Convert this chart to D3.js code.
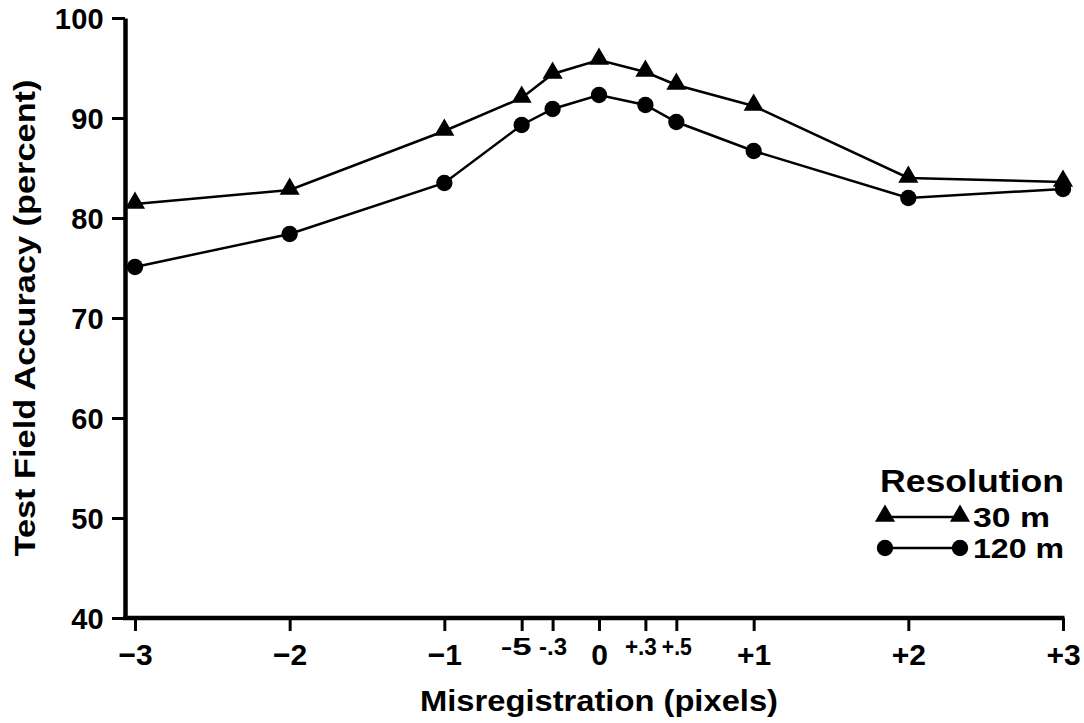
<!DOCTYPE html>
<html>
<head>
<meta charset="utf-8">
<script src="https://cdn.jsdelivr.net/npm/d3@7/dist/d3.min.js"></script>
<style>
  html, body { margin: 0; padding: 0; background: #fff; }
  svg { display: block; }
  text { font-family: "Liberation Sans", Arial, Helvetica, sans-serif; fill: #000; }
</style>
</head>
<body>
<svg id="chart" width="1084" height="723"></svg>
<script>
// ---- data ----
const xValues = [-3, -2, -1, -0.5, -0.3, 0, 0.3, 0.5, 1, 2, 3];
const acc30m  = [81.4, 82.8, 88.7, 92.0, 94.4, 95.8, 94.6, 93.3, 91.2, 84.0, 83.6];
const acc120m = [75.1, 78.4, 83.5, 89.3, 90.9, 92.3, 91.3, 89.6, 86.7, 82.0, 82.9];
const xTickValues = [-3, -2, -1, -0.5, -0.3, 0, 0.3, 0.5, 1, 2, 3];
const xTickLabels = ["\u22123", "\u22122", "\u22121", "-5", "-.3", "0", "+.3", "+.5", "+1", "+2", "+3"];
const smallTicks = [-0.5, -0.3, 0.3, 0.5];
const yTickValues = [40, 50, 60, 70, 80, 90, 100];
const seriesNames = ["30 m", "120 m"];

const svg = d3.select("#chart");
const x = d3.scaleLinear().domain([-3, 3]).range([135, 1063]);
const y = d3.scaleLinear().domain([40, 100]).range([618, 18]);

// y axis
const yAxis = d3.axisLeft(y).tickValues(yTickValues).tickSize(13).tickSizeOuter(0).tickPadding(8);
const gy = svg.append("g").attr("transform", "translate(125,0)").call(yAxis);
gy.select(".domain").attr("stroke", "#000").attr("stroke-width", 4.5);
gy.selectAll(".tick line").attr("stroke", "#000").attr("stroke-width", 3);
gy.selectAll(".tick text")
  .attr("font-size", 29).attr("font-weight", "bold").attr("dy", "0.36em")
  .style("letter-spacing", "0.3px").attr("fill", "#000");

// x axis
const smallWidths = { "-0.5": 31, "-0.3": 28, "0.3": 32, "0.5": 30 };
const xAxis = d3.axisBottom(x).tickValues(xTickValues).tickSize(13).tickSizeOuter(0)
  .tickFormat((d, i) => xTickLabels[i]);
const gx = svg.append("g").attr("transform", `translate(0,${y(40)})`).call(xAxis);
gx.select(".domain").remove();
gx.selectAll(".tick line").attr("stroke", "#000").attr("stroke-width", 3);
gx.selectAll(".tick text").each(function(d) {
  const t = d3.select(this);
  if (smallTicks.includes(d)) {
    t.attr("font-size", 23).attr("font-weight", "bold").attr("y", 21).attr("dy", "0.71em")
     .attr("textLength", smallWidths[String(d)]).attr("lengthAdjust", "spacingAndGlyphs");
    if (d === -0.5) t.attr("x", -6);
    if (d === 0.3) t.attr("x", -5);
  } else {
    t.attr("font-size", 30).attr("font-weight", "bold").attr("y", 26).attr("dy", "0.71em");
  }
  t.attr("fill", "#000");
});
svg.append("line")
  .attr("x1", 125 - 2).attr("x2", x(3) + 1.5)
  .attr("y1", y(40)).attr("y2", y(40))
  .attr("stroke", "#000").attr("stroke-width", 4.5);

// axis titles
svg.append("text")
  .attr("x", x(0)).attr("y", 711)
  .attr("text-anchor", "middle")
  .attr("font-size", 29).attr("font-weight", "bold")
  .attr("textLength", 358).attr("lengthAdjust", "spacingAndGlyphs")
  .text("Misregistration (pixels)");
svg.append("text")
  .attr("transform", "translate(35,318) rotate(-90)")
  .attr("text-anchor", "middle")
  .attr("font-size", 29).attr("font-weight", "bold")
  .attr("textLength", 477).attr("lengthAdjust", "spacingAndGlyphs")
  .text("Test Field Accuracy (percent)");

// series
const series = [
  { name: seriesNames[0], values: acc30m, marker: "triangle" },
  { name: seriesNames[1], values: acc120m, marker: "circle" }
];
const line = d3.line().x((d) => x(d[0])).y((d) => y(d[1]));
const triSym = d3.symbol().type(d3.symbolTriangle).size(175);
const cirSym = d3.symbol().type(d3.symbolCircle).size(210);

series.forEach((s) => {
  const pts = xValues.map((v, i) => [v, s.values[i]]);
  svg.append("path").datum(pts).attr("d", line)
    .attr("fill", "none").attr("stroke", "#000").attr("stroke-width", 2.5);
  svg.append("g").selectAll("path").data(pts).join("path")
    .attr("transform", (d) => `translate(${x(d[0])},${y(d[1]) + (s.marker === "triangle" ? -1 : 0)})`)
    .attr("d", s.marker === "triangle" ? triSym : cirSym)
    .attr("fill", "#000");
});

// legend
const lg = svg.append("g");
lg.append("text").attr("x", 880).attr("y", 492)
  .attr("font-size", 31).attr("font-weight", "bold")
  .attr("textLength", 184).attr("lengthAdjust", "spacingAndGlyphs")
  .text("Resolution");
const legendRows = [
  { label: seriesNames[0], sym: triSym, yy: 517, w: 77 },
  { label: seriesNames[1], sym: cirSym, yy: 548, w: 91 }
];
legendRows.forEach((r) => {
  lg.append("line").attr("x1", 885).attr("x2", 960).attr("y1", r.yy).attr("y2", r.yy)
    .attr("stroke", "#000").attr("stroke-width", 2.5);
  [885, 960].forEach((cx) => {
    lg.append("path").attr("d", r.sym).attr("transform", `translate(${cx},${r.yy - (r.sym === triSym ? 1 : 0)})`).attr("fill", "#000");
  });
  lg.append("text").attr("x", 973).attr("y", r.yy + 10)
    .attr("font-size", 28).attr("font-weight", "bold")
    .attr("textLength", r.w).attr("lengthAdjust", "spacingAndGlyphs")
    .text(r.label);
});
</script>
</body>
</html>
